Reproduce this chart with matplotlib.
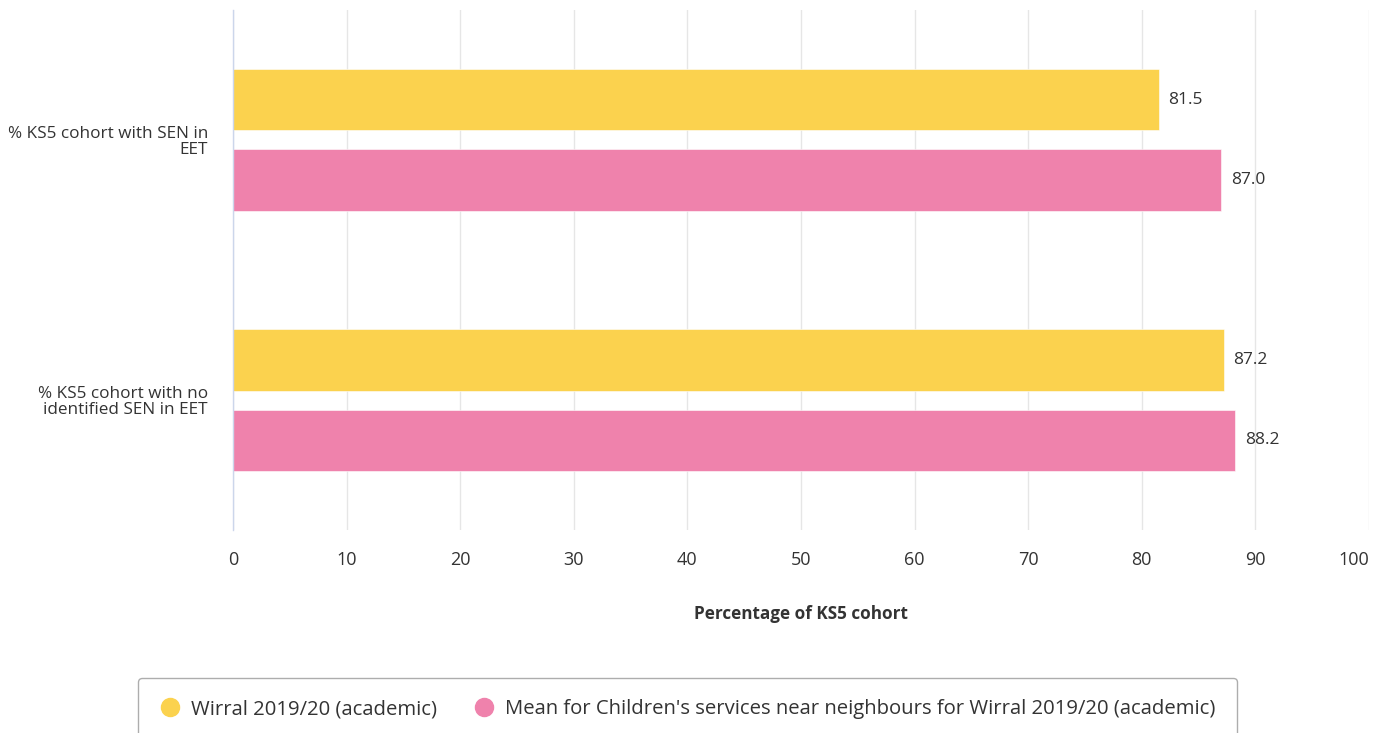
import numpy as np
import matplotlib
matplotlib.use("Agg")
import matplotlib.pyplot as plt
from matplotlib.lines import Line2D

plt.rcParams['font.family'] = ['Open Sans', 'DejaVu Sans']

# data
categories = ["% KS5 cohort with SEN in\nEET", "% KS5 cohort with no\nidentified SEN in EET"]
series_names = ["Wirral 2019/20 (academic)",
                "Mean for Children's services near neighbours for Wirral 2019/20 (academic)"]
wirral = [81.5, 87.2]
neighbours = [87.0, 88.2]
x_ticks = [0, 10, 20, 30, 40, 50, 60, 70, 80, 90, 100]

colors = ["#fbd24e", "#ef82ac"]
text_color = "#333333"

fig = plt.figure(figsize=(13.81, 7.33), dpi=100)
ax = fig.add_axes([0.1687, 0.2769, 0.8226, 0.7095])

y = np.arange(len(categories))
h = 0.235
offs = [-0.154, 0.154]
for vals, off, col in zip([wirral, neighbours], offs, colors):
    bars = ax.barh(y + off, vals, height=h, color=col, edgecolor="white", linewidth=0.4, zorder=3)
    for b, v in zip(bars, vals):
        ax.annotate(f"{v:.1f}", (v, b.get_y() + b.get_height() / 2), xytext=(7, 0),
                    textcoords="offset points", va="center", ha="left",
                    fontsize=12.5, color=text_color)

ax.set_ylim(len(categories) - 0.5, -0.5)
ax.set_xlim(0, 100)
ax.set_xticks(x_ticks)
ax.set_yticks(y)
ax.set_yticklabels(categories, fontsize=12.3, color=text_color, linespacing=1.0)
ax.tick_params(axis='y', length=0, pad=18)
ax.tick_params(axis='x', length=0, pad=15, labelsize=13, labelcolor=text_color)
# keep the last x label inside the figure, like the original
ax.get_xticklabels()[-1].set_horizontalalignment("right")
ax.grid(axis='x', color="#e6e6e6", linewidth=1, zorder=0)
for s in ["top", "right", "bottom"]:
    ax.spines[s].set_visible(False)
ax.spines["left"].set_color("#ccd6eb")
ax.spines["left"].set_linewidth(1)
ax.spines["left"].set_zorder(4)

ax.set_xlabel("Percentage of KS5 cohort", fontsize=12.3, fontweight="bold",
              color=text_color, labelpad=26)

handles = [Line2D([], [], marker='o', linestyle='none', markersize=13,
                  markerfacecolor=c, markeredgecolor=c) for c in colors]
leg = fig.legend(handles, series_names, loc="upper center", bbox_to_anchor=(0.4978, 0.075),
                 ncol=2, fontsize=14.6, frameon=True, fancybox=True, borderpad=1.05,
                 borderaxespad=0, handletextpad=0.55, columnspacing=1.8, handlelength=1.0,
                 labelcolor=text_color)
leg.get_frame().set_edgecolor("#999999")
leg.get_frame().set_linewidth(1)

fig.savefig("out.png", dpi=100)
